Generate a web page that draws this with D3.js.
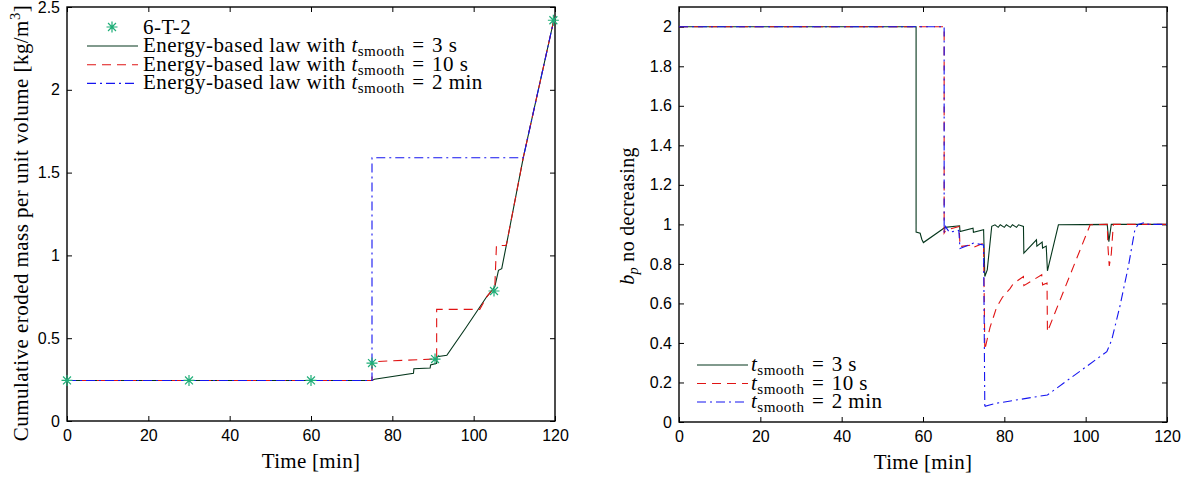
<!DOCTYPE html>
<html>
<head>
<meta charset="utf-8">
<script src="https://cdn.jsdelivr.net/npm/d3@7"></script>
<style>
body { margin: 0; background: #fff; }
</style>
</head>
<body>
<div id="chart"></div>
<script>
// ---- left panel: cumulative eroded mass ----
var markerTime = [0, 30, 60, 75, 90.5, 105, 119.6];
var markerMass = [0.245, 0.245, 0.245, 0.35, 0.374, 0.785, 2.42];

var mass3sTime = [0, 75, 75.6, 85.2, 85.3, 89.3, 89.4, 90.9, 91.0, 93.4, 98, 103.2, 105.2, 106.1, 106.9, 108.1, 112.2, 119.7];
var mass3s = [0.245, 0.245, 0.252, 0.288, 0.316, 0.32, 0.338, 0.348, 0.388, 0.397, 0.56, 0.75, 0.81, 0.91, 0.92, 1.07, 1.59, 2.42];

var mass10sTime = [0, 75, 75, 90.9, 90.9, 101.5, 103.2, 105.2, 105.6, 107.9, 108.1, 112.2, 119.7];
var mass10s = [0.245, 0.245, 0.358, 0.375, 0.674, 0.674, 0.75, 0.81, 1.06, 1.06, 1.07, 1.59, 2.42];

var mass2minTime = [0, 75, 75, 112.2, 119.7];
var mass2min = [0.245, 0.245, 1.59, 1.59, 2.42];

// ---- right panel: b_p no decreasing ----
var bp3sTime = [0, 58.3, 58.3, 59.3, 59.7, 60.1, 64.6, 65.4, 69.0, 69.1, 72.3, 72.4, 74.9, 75.2, 75.8, 76.9, 77.7, 78.5, 79.0, 80.0, 80.5, 81.5, 82.0, 83.0, 83.5, 84.7, 84.8, 87.9, 88.0, 89.3, 89.4, 90.3, 90.6, 93.3, 105.3, 105.7, 106.3, 120];
var bp3s = [2, 2, 0.961, 0.955, 0.925, 0.908, 0.973, 0.985, 0.993, 0.964, 0.981, 0.96, 0.973, 0.736, 0.77, 0.99, 0.998, 0.985, 0.998, 0.985, 0.998, 0.985, 0.998, 0.985, 0.998, 0.99, 0.855, 0.922, 0.89, 0.91, 0.88, 0.89, 0.765, 0.998, 1.0, 0.913, 1.0, 1.0];

var bp10sTime = [0, 65.2, 65.2, 65.6, 68.9, 69.1, 72.4, 72.6, 74.9, 75.2, 75.8, 76.5, 78.1, 79.5, 81.4, 82.2, 84.7, 84.8, 89.2, 89.4, 90.5, 90.6, 101.1, 105.3, 105.5, 105.8, 106.3, 106.8, 120];
var bp10s = [2, 2, 0.956, 0.97, 0.99, 0.888, 0.897, 0.885, 0.905, 0.365, 0.42, 0.48, 0.58, 0.63, 0.675, 0.70, 0.736, 0.69, 0.745, 0.694, 0.703, 0.457, 0.998, 1.0, 0.88, 0.79, 0.85, 1.0, 1.0];

var bp2minTime = [0, 65.2, 65.2, 65.5, 66.5, 68.8, 69.1, 72.4, 74.9, 75.2, 75.3, 78.1, 90.6, 105.2, 106.4, 108.4, 110.5, 112.1, 112.9, 114.6, 115.5, 120];
var bp2min = [2, 2, 0.956, 0.99, 0.96, 0.97, 0.878, 0.905, 0.896, 0.069, 0.08, 0.095, 0.137, 0.356, 0.415, 0.584, 0.787, 0.973, 1.0, 1.01, 1.0, 1.0];

var massTicks = [0, 0.5, 1, 1.5, 2, 2.5];
var bpTicks = [0, 0.2, 0.4, 0.6, 0.8, 1, 1.2, 1.4, 1.6, 1.8, 2];
var timeTicks = [0, 20, 40, 60, 80, 100, 120];

var colGreen = "#05361c", colRed = "#e01414", colBlue = "#1515f0", colMark = "#1fae78";
var serif = "'Liberation Serif', 'Times New Roman', serif";
var sans = "'Liberation Sans', Arial, sans-serif";
var sp = "\u2004";

var svg = d3.select("#chart").append("svg")
  .attr("width", 1195)
  .attr("height", 480);

function zip(xs, ys) {
  return xs.map(function (x, i) { return [x, ys[i]]; });
}

// math text "t_smooth = ..."
function tsmooth(txt, prefix, suffix) {
  if (prefix) txt.append("tspan").text(prefix);
  txt.append("tspan").attr("font-style", "italic").text("t");
  txt.append("tspan").attr("font-size", "0.72em").attr("dy", 4).text("smooth");
  txt.append("tspan").attr("dy", -4).text(sp + "=" + sp + suffix);
}

function panel(left, right, top, bottom, yMax, yTicks) {
  var x = d3.scaleLinear().domain([0, 120]).range([left, right]);
  var y = d3.scaleLinear().domain([0, yMax]).range([bottom, top]);

  var g = svg.append("g");
  g.append("g")
    .attr("transform", "translate(0," + bottom + ")")
    .call(d3.axisBottom(x).tickValues(timeTicks).tickSizeInner(-5).tickSizeOuter(0).tickPadding(9))
    .call(function (a) { a.select(".domain").remove(); });
  g.append("g")
    .attr("transform", "translate(0," + top + ")")
    .call(d3.axisTop(x).tickValues(timeTicks).tickSizeInner(-5).tickSizeOuter(0).tickFormat(""))
    .call(function (a) { a.select(".domain").remove(); });
  g.append("g")
    .attr("transform", "translate(" + left + ",0)")
    .call(d3.axisLeft(y).tickValues(yTicks).tickSizeInner(-5).tickSizeOuter(0).tickPadding(7).tickFormat(d3.format("~g")))
    .call(function (a) { a.select(".domain").remove(); });
  g.append("g")
    .attr("transform", "translate(" + right + ",0)")
    .call(d3.axisRight(y).tickValues(yTicks).tickSizeInner(-5).tickSizeOuter(0).tickFormat(""))
    .call(function (a) { a.select(".domain").remove(); });
  g.selectAll(".tick text").attr("font-family", sans).attr("font-size", 16).attr("fill", "#000");
  g.selectAll(".tick line").attr("stroke", "#000");
  g.append("rect")
    .attr("x", left).attr("y", top)
    .attr("width", right - left).attr("height", bottom - top)
    .attr("fill", "none").attr("stroke", "#000").attr("stroke-width", 1.4);

  g.append("text")
    .attr("x", (left + right) / 2).attr("y", bottom + 47)
    .attr("text-anchor", "middle")
    .attr("font-family", serif).attr("font-size", 21).attr("letter-spacing", 0.3)
    .text("Time [min]");
  return { x: x, y: y, g: g };
}

function drawLine(p, xs, ys, color, dash) {
  var line = d3.line().x(function (d) { return p.x(d[0]); }).y(function (d) { return p.y(d[1]); });
  p.g.append("path")
    .datum(zip(xs, ys))
    .attr("d", line)
    .attr("fill", "none")
    .attr("stroke", color)
    .attr("stroke-width", 1.1)
    .attr("stroke-dasharray", dash);
}

function asterisk(r) {
  var a = r * 0.72;
  return "M" + (-r) + ",0L" + r + ",0M0," + (-r) + "L0," + r +
    "M" + (-a) + "," + (-a) + "L" + a + "," + a + "M" + (-a) + "," + a + "L" + a + "," + (-a);
}

var dashed = "9,6", dashDot = "9,4,2,4";

// left
var pL = panel(67, 555, 7, 421, 2.5, massTicks);
drawLine(pL, mass3sTime, mass3s, colGreen, null);
drawLine(pL, mass10sTime, mass10s, colRed, dashed);
drawLine(pL, mass2minTime, mass2min, colBlue, dashDot);
pL.g.selectAll(".mk")
  .data(zip(markerTime, markerMass))
  .enter().append("path")
  .attr("transform", function (d) { return "translate(" + pL.x(d[0]) + "," + pL.y(d[1]) + ")"; })
  .attr("d", asterisk(5.5))
  .attr("stroke", colMark)
  .attr("stroke-width", 1.2)
  .attr("fill", "none");

// left y label
var yl = svg.append("text")
  .attr("transform", "translate(28,223) rotate(-90)")
  .attr("text-anchor", "middle")
  .attr("font-family", serif).attr("font-size", 21).attr("letter-spacing", 0.45);
yl.append("tspan").text("Cumulative eroded mass per unit volume [kg/m");
yl.append("tspan").attr("font-size", "0.7em").attr("dy", -8).text("3");
yl.append("tspan").attr("dy", 8).text("]");

// left legend
var legL = svg.append("g").attr("font-family", serif).attr("font-size", 21).attr("letter-spacing", 0.45);
legL.append("path")
  .attr("transform", "translate(112,27)")
  .attr("d", asterisk(5.5))
  .attr("stroke", colMark).attr("stroke-width", 1.2).attr("fill", "none");
legL.append("text").attr("x", 143).attr("y", 34).text("6-T-2");
var legLItems = [
  { c: colGreen, d: null, s: "3 s" },
  { c: colRed, d: dashed, s: "10 s" },
  { c: colBlue, d: dashDot, s: "2 min" }
];
legLItems.forEach(function (it, i) {
  var cy = 46 + i * 18.7;
  legL.append("line")
    .attr("x1", 87).attr("x2", 138).attr("y1", cy).attr("y2", cy)
    .attr("stroke", it.c).attr("stroke-width", 1.1).attr("stroke-dasharray", it.d);
  tsmooth(legL.append("text").attr("x", 143).attr("y", cy + 6), "Energy-based law with ", it.s);
});

// right
var pR = panel(679, 1167, 7, 422, 2.1, bpTicks);
drawLine(pR, bp3sTime, bp3s, colGreen, null);
drawLine(pR, bp10sTime, bp10s, colRed, dashed);
drawLine(pR, bp2minTime, bp2min, colBlue, dashDot);

var yr = svg.append("text")
  .attr("transform", "translate(634,216) rotate(-90)")
  .attr("text-anchor", "middle")
  .attr("font-family", serif).attr("font-size", 20).attr("letter-spacing", 0.3);
yr.append("tspan").attr("font-style", "italic").text("b");
yr.append("tspan").attr("font-style", "italic").attr("font-size", "0.72em").attr("dy", 4).text("p");
yr.append("tspan").attr("dy", -4).text(" no decreasing");

var legR = svg.append("g").attr("font-family", serif).attr("font-size", 21).attr("letter-spacing", 0.45);
legLItems.forEach(function (it, i) {
  var cy = 365 + i * 18.5;
  legR.append("line")
    .attr("x1", 697).attr("x2", 748).attr("y1", cy).attr("y2", cy)
    .attr("stroke", it.c).attr("stroke-width", 1.1).attr("stroke-dasharray", it.d);
  tsmooth(legR.append("text").attr("x", 751).attr("y", cy + 6), "", it.s);
});
</script>
</body>
</html>
